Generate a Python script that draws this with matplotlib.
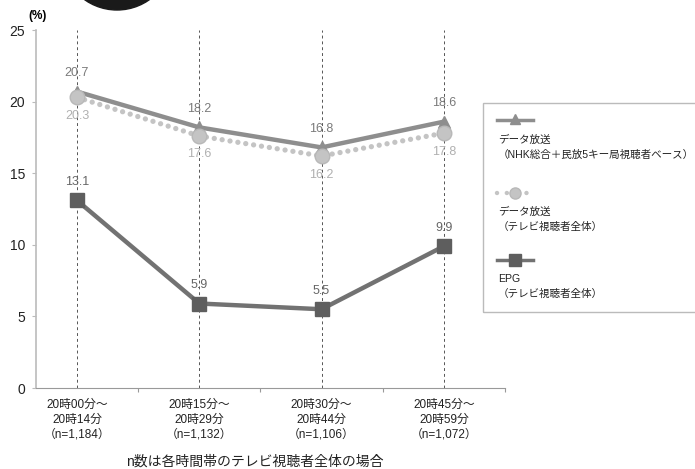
import matplotlib
matplotlib.use("Agg")
import matplotlib.pyplot as plt
from matplotlib.patches import Rectangle, Ellipse
from matplotlib.lines import Line2D

plt.rcParams['font.family'] = ['Liberation Sans', 'Noto Sans CJK JP', 'DejaVu Sans']

categories = ["20時00分～\n20時14分\n（n=1,184）",
              "20時15分～\n20時29分\n（n=1,132）",
              "20時30分～\n20時44分\n（n=1,106）",
              "20時45分～\n20時59分\n（n=1,072）"]
data_nhk = [20.7, 18.2, 16.8, 18.6]
data_all = [20.3, 17.6, 16.2, 17.8]
epg_all = [13.1, 5.9, 5.5, 9.9]
yticks = [0, 5, 10, 15, 20, 25]
legend_labels = ["データ放送\n（NHK総合＋民放5キー局視聴者ベース）",
                 "データ放送\n（テレビ視聴者全体）",
                 "EPG\n（テレビ視聴者全体）"]
footnote = "n数は各時間帯のテレビ視聴者全体の場合"

W, H = 695, 469
fig = plt.figure(figsize=(W / 100, H / 100), dpi=100)
ax = fig.add_axes([36 / W, 1 - 388 / H, (505 - 36) / W, (388 - 30) / H])

x = list(range(len(categories)))
c_nhk = '#8e8e8e'
c_all = '#c4c4c4'
c_epg = '#727272'

for xi in x:
    ax.axvline(xi, color='#555555', lw=0.7, ls=(0, (3, 3)), zorder=1)

ax.plot(x, data_all, color=c_all, lw=3.8, ls=(0, (0.01, 1.5)),
        dash_capstyle='round', zorder=2)
ax.plot(x, data_nhk, color=c_nhk, lw=3.2, zorder=3,
        marker='^', markersize=8.5, markerfacecolor=c_nhk, markeredgecolor=c_nhk)
ax.plot(x, data_all, ls='none', marker='o', markersize=10.5,
        markerfacecolor=c_all, markeredgecolor='#b8b8b8', zorder=4)
ax.plot(x, epg_all, color=c_epg, lw=3.2, zorder=3,
        marker='s', markersize=10.5, markerfacecolor='#5e5e5e', markeredgecolor='#5e5e5e')

for xi, v in zip(x, data_nhk):
    ax.annotate(f"{v:.1f}", (xi, v), xytext=(0, 9), textcoords='offset points',
                ha='center', va='bottom', fontsize=9, color='#7a7a7a')
for xi, v in zip(x, data_all):
    ax.annotate(f"{v:.1f}", (xi, v), xytext=(0, -9), textcoords='offset points',
                ha='center', va='top', fontsize=9, color='#b0b0b0')
for xi, v in zip(x, epg_all):
    ax.annotate(f"{v:.1f}", (xi, v), xytext=(0, 9), textcoords='offset points',
                ha='center', va='bottom', fontsize=9, color='#666666')

ax.set_xlim(-0.335, 3.5)
ax.set_ylim(0, 25)
ax.set_yticks(yticks)
ax.set_yticklabels([str(t) for t in yticks], fontsize=10, color='#222222')
ax.set_xticks([0.5, 1.5, 2.5, 3.5])
ax.set_xticklabels([])
ax.set_xticks(x, minor=True)
ax.set_xticklabels(categories, minor=True, fontsize=8.5, color='#222222', linespacing=1.3)
ax.tick_params(axis='x', which='major', length=3, color='#999999', direction='out')
ax.tick_params(axis='x', which='minor', length=0, pad=8)
ax.tick_params(axis='y', length=3, color='#bbbbbb', pad=5)
for s in ['top', 'right']:
    ax.spines[s].set_visible(False)
ax.spines['left'].set_color('#bbbbbb')
ax.spines['bottom'].set_color('#999999')
ax.spines['left'].set_linewidth(1.2)

fig.text(38 / W, 1 - 16 / H, "(%)", fontsize=8.5, fontweight='bold', ha='center', va='center')
fig.text(255 / W, 1 - 462 / H, footnote, fontsize=10, ha='center', va='center', color='#222222')

# legend box
fig.patches.append(Rectangle((483 / W, 1 - 312 / H), (720 - 483) / W, (312 - 103) / H,
                             transform=fig.transFigure, fill=False, ec='#bbbbbb', lw=1.0))
sx0, sx1 = 497 / W, 533 / W
def fy(p):
    return 1 - p / H
fig.lines.append(Line2D([sx0, sx1], [fy(120)] * 2, transform=fig.transFigure, color=c_nhk, lw=2.5))
fig.lines.append(Line2D([(sx0 + sx1) / 2], [fy(119)], transform=fig.transFigure, marker='^',
                        markersize=7, color=c_nhk, ls='none'))
fig.lines.append(Line2D([sx0, sx1], [fy(193)] * 2, transform=fig.transFigure, color=c_all, lw=3.2,
                        ls=(0, (0.01, 2.2)), dash_capstyle='round'))
fig.lines.append(Line2D([(sx0 + sx1) / 2], [fy(193)], transform=fig.transFigure, marker='o',
                        markersize=8, markerfacecolor=c_all, markeredgecolor='#b8b8b8', ls='none'))
fig.lines.append(Line2D([sx0, sx1], [fy(260)] * 2, transform=fig.transFigure, color=c_epg, lw=2.5))
fig.lines.append(Line2D([(sx0 + sx1) / 2], [fy(260)], transform=fig.transFigure, marker='s',
                        markersize=8, color='#5e5e5e', ls='none'))
for lab, yp in zip(legend_labels, [147, 219, 286]):
    fig.text(498 / W, fy(yp), lab, fontsize=7.6, ha='left', va='center', color='#222222',
             linespacing=1.6)

# decorative black circle at top
fig.patches.append(Ellipse((117 / W, fy(-46)), 112 / W, 112 / H, transform=fig.transFigure,
                           color='#1a1a1a'))

fig.savefig("out.png", dpi=100)
